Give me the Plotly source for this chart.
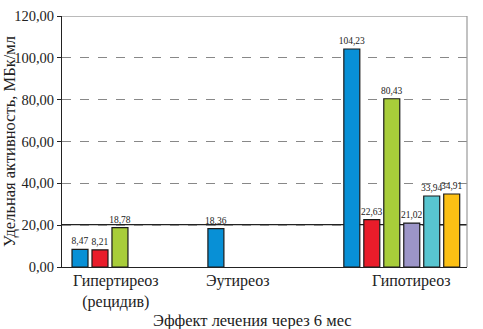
import plotly.graph_objects as go

categories = ["Гипертиреоз (рецидив)", "Эутиреоз", "Гипотиреоз"]
category_labels = ["Гипертиреоз<br>(рецидив)", "Эутиреоз", "Гипотиреоз"]
series_names = ["Ряд 1", "Ряд 2", "Ряд 3", "Ряд 4", "Ряд 5", "Ряд 6"]
s1 = [8.47, 18.36, 104.23]
s2 = [8.21, None, 22.63]
s3 = [18.78, None, 80.43]
s4 = [None, None, 21.02]
s5 = [None, None, 33.94]
s6 = [None, None, 34.91]
series_values = [s1, s2, s3, s4, s5, s6]
y_ticks = [0, 20, 40, 60, 80, 100, 120]

colors = ["#0890d6", "#e91c2a", "#a8cd3a", "#9c95c8", "#58c5d0", "#fcc014"]
FONT = "Liberation Serif"

fig = go.Figure()
for name, vals, c in zip(series_names, series_values, colors):
    fig.add_trace(go.Bar(
        x=categories, y=vals, name=name,
        marker=dict(color=c, line=dict(color="#1a1a1a", width=1.2)),
        texttemplate="%{y:.2f}", textposition="outside",
        textfont=dict(family=FONT, size=9.5, color="#222"),
        constraintext="none",
        cliponaxis=False,
    ))

fig.update_layout(
    width=483, height=329,
    margin=dict(l=62, r=16, t=16, b=62, autoexpand=False),
    paper_bgcolor="white", plot_bgcolor="white",
    barmode="group", bargap=0.118, bargroupgap=0.2,
    separators=", ",
    showlegend=False,
    font=dict(family=FONT, size=14, color="#222"),
)
fig.update_xaxes(
    range=[-0.5, 2.48], showticklabels=False, showgrid=False,
    showline=True, linecolor="#222", linewidth=1.2, ticks="",
    automargin=False,
)
fig.update_yaxes(
    range=[0, 120], tickvals=y_ticks, tickformat=".2f",
    showgrid=True, gridcolor="#888", griddash="dash", gridwidth=1,
    showline=True, linecolor="#222", linewidth=1.2,
    ticks="outside", ticklen=4, tickcolor="#222",
    tickfont=dict(family=FONT, size=14.5, color="#222"),
    title=dict(text="Удельная активность, МБк/мл", font=dict(family=FONT, size=16.5), standoff=4),
    zeroline=False, automargin=False,
)
# frame: top and right gray lines, reference line at 20
fig.add_shape(type="line", xref="paper", yref="y", x0=0, x1=1, y0=120, y1=120,
              line=dict(color="#777", width=1.2))
fig.add_shape(type="line", xref="paper", yref="paper", x0=1, x1=1, y0=0, y1=1,
              line=dict(color="#999", width=1.2))
fig.add_shape(type="line", xref="paper", yref="y", x0=0, x1=1, y0=20.3, y1=20.3,
              line=dict(color="#222", width=1.2), layer="below")

label_pos = [0.133, 0.435, 0.862]
for lbl, px in zip(category_labels, label_pos):
    fig.add_annotation(text=lbl, xref="paper", yref="paper", x=px, y=0, yshift=-3,
                       xanchor="center", yanchor="top", showarrow=False,
                       font=dict(family=FONT, size=16, color="#222"))
fig.add_annotation(text="Эффект лечения через 6 мес", xref="paper", yref="paper",
                   x=0.47, y=0, yshift=-42, xanchor="center", yanchor="top",
                   showarrow=False, font=dict(family=FONT, size=16.5, color="#222"))

fig.write_html("out.html")
